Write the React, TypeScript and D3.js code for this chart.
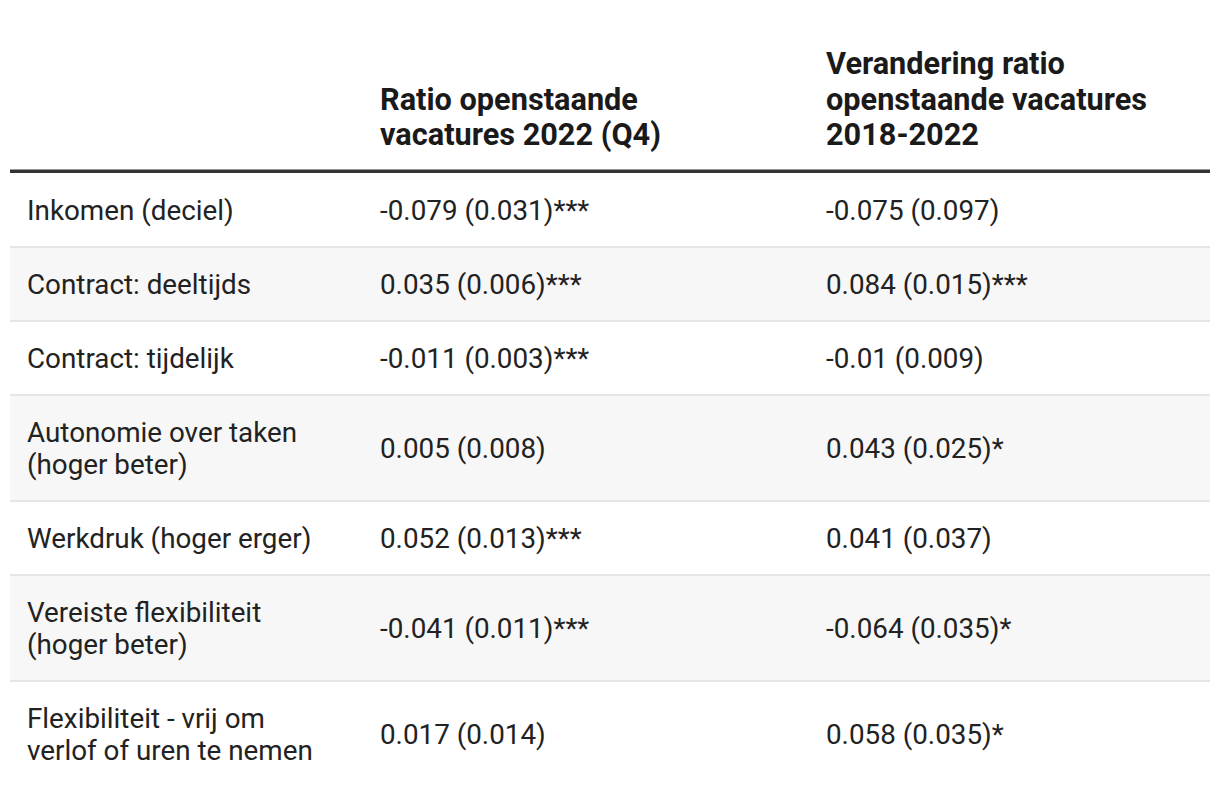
import React from "react";
import * as d3 from "d3";

const headerCol2 = ["Ratio openstaande", "vacatures 2022 (Q4)"];
const headerCol3 = ["Verandering ratio", "openstaande vacatures", "2018-2022"];

const rowLabels = [
  ["Inkomen (deciel)"],
  ["Contract: deeltijds"],
  ["Contract: tijdelijk"],
  ["Autonomie over taken", "(hoger beter)"],
  ["Werkdruk (hoger erger)"],
  ["Vereiste flexibiliteit", "(hoger beter)"],
  ["Flexibiliteit - vrij om", "verlof of uren te nemen"],
];

const ratio2022 = [
  "-0.079 (0.031)***",
  "0.035 (0.006)***",
  "-0.011 (0.003)***",
  "0.005 (0.008)",
  "0.052 (0.013)***",
  "-0.041 (0.011)***",
  "0.017 (0.014)",
];

const change2018 = [
  "-0.075 (0.097)",
  "0.084 (0.015)***",
  "-0.01 (0.009)",
  "0.043 (0.025)*",
  "0.041 (0.037)",
  "-0.064 (0.035)*",
  "0.058 (0.035)*",
];

export default function App() {
  const width = 1220, height = 796;
  const left = 10, right = 1210;
  const headerLineY = 171;
  const tableTop = 173;
  const singleH = 74, lineGap = 32, headLine = 35.5;

  const heights = rowLabels.map(l => singleH + (l.length - 1) * lineGap);
  const tops = [tableTop, ...Array.from(d3.cumsum(heights)).map(s => tableTop + s)];

  const x = d3.scalePoint<string>()
    .domain(["label", "c2", "c3"])
    .range([27, 826]);
  const colX = { label: 27, c2: 380, c3: x("c3") as number };

  const font = "Roboto, 'Noto Sans', sans-serif";
  const headBottom = 145; // baseline of last header line

  return (
    <svg width={width} height={height} style={{ position: "absolute", left: 0, top: 0 }}>
      <rect width={width} height={height} fill="#ffffff" />
      {rowLabels.map((lab, i) => (
        <g key={i}>
          <rect x={left} y={tops[i]} width={right - left} height={heights[i]}
            fill={i % 2 === 1 ? "#f7f7f7" : "#ffffff"} />
          {i > 0 && (
            <rect x={left} y={tops[i] - 1} width={right - left} height={2} fill="#e6e6e6" />
          )}
        </g>
      ))}
      <rect x={left} y={headerLineY - 1.5} width={right - left} height={3.5} fill="#333333" />

      <g fontFamily={font} fontWeight={700} fontSize={30.7} fill="#1a1a1a">
        {headerCol2.map((t, j) => (
          <text key={j} x={colX.c2} y={headBottom - (headerCol2.length - 1 - j) * headLine}>{t}</text>
        ))}
        {headerCol3.map((t, j) => (
          <text key={j} x={colX.c3} y={headBottom - (headerCol3.length - 1 - j) * headLine}>{t}</text>
        ))}
      </g>

      <g fontFamily={font} fontSize={27.8} fill="#222222">
        {rowLabels.map((lab, i) => {
          const cy = tops[i] + heights[i] / 2;
          return (
            <g key={i}>
              {lab.map((t, j) => (
                <text key={j} x={colX.label} y={cy + (j - (lab.length - 1) / 2) * lineGap}
                  dy="0.35em">{t}</text>
              ))}
              <text x={colX.c2} y={cy} dy="0.35em">{ratio2022[i]}</text>
              <text x={colX.c3} y={cy} dy="0.35em">{change2018[i]}</text>
            </g>
          );
        })}
      </g>
    </svg>
  );
}
